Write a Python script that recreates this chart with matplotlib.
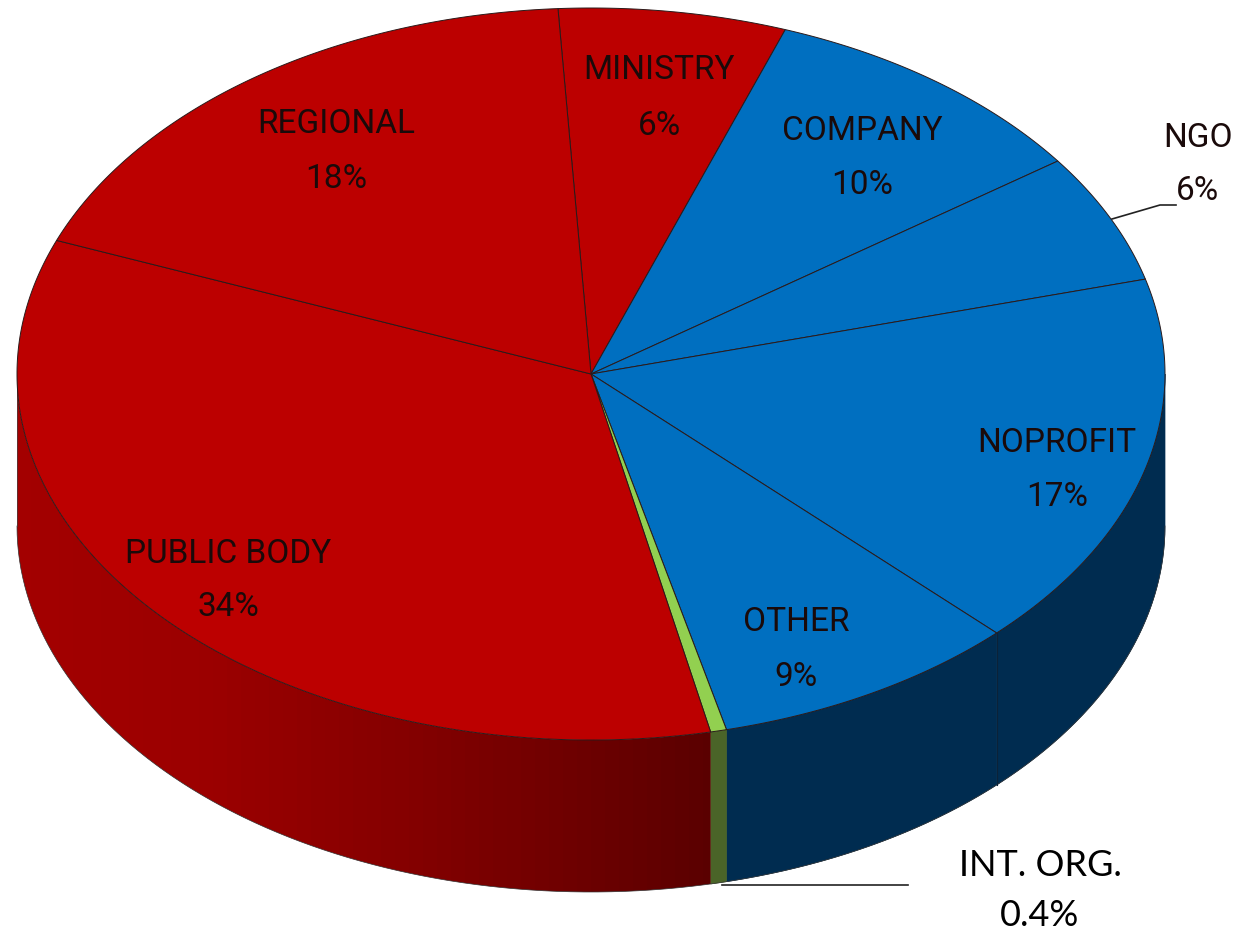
# -*- coding: utf-8 -*-
import numpy as np
import matplotlib
matplotlib.use("Agg")
import matplotlib.pyplot as plt
from matplotlib.colors import ListedColormap
from matplotlib.patches import Polygon

# Parts du camembert, dans le sens horaire depuis MINISTRY
names = ["MINISTRY", "COMPANY", "NGO", "NOPROFIT", "OTHER", "INT. ORG.", "PUBLIC BODY", "REGIONAL"]
shares = [6.4, 9.6, 5.7, 16.65, 8.68, 0.45, 34.22, 18.1]
pct_labels = ["6%", "10%", "6%", "17%", "9%", "0.4%", "34%", "18%"]
top_colors = ["#BC0000", "#006FC0", "#006FC0", "#006FC0", "#006FC0", "#92D050", "#BC0000", "#BC0000"]
side_colors = ["#8A0000", "#002C50", "#002C50", "#002C50", "#002C50", "#4A6428", None, "#8A0000"]

# Géométrie de l'ellipse, en pixels
cx, cy = 591, 374
rx, ry = 574, 366
depth = 152
start_angle = 93.3

fig = plt.figure(figsize=(12.37, 9.32), dpi=100)
ax = fig.add_axes([0, 0, 1, 1])


def ellipse_pts(t1, t2, n=200):
    t = np.radians(np.linspace(t1, t2, n))
    return cx + rx * np.cos(t), cy - ry * np.sin(t)


# Angles des limites
edges = start_angle - np.cumsum([0] + shares) * 360 / sum(shares)

# Côté du cylindre (partie avant seulement)
for i in range(len(shares)):
    a1, a2 = edges[i], edges[i + 1]
    for lo, hi in [(-180, 0), (-540, -360)]:
        s = max(a2, lo)
        e = min(a1, hi)
        if s >= e:
            continue
        xs, ys = ellipse_pts(e, s, 200)
        pts = np.column_stack([np.r_[xs, xs[::-1]], np.r_[ys, ys[::-1] + depth]])
        if side_colors[i] is not None:
            c = side_colors[i]
            ax.add_patch(Polygon(pts, closed=True, fc=c, ec=c, lw=0.5, zorder=2))
        else:
            # rouge : dégradé en bandes, plus sombre vers la droite
            poly = Polygon(pts, closed=True, fc="none", ec="none", zorder=2)
            ax.add_patch(poly)
            band_x = np.arange(17, 725, 14)
            levels = np.interp(band_x, [17, 200, 400, 550, 712], [0.64, 0.61, 0.52, 0.44, 0.35])
            cmap = ListedColormap([(v, 0, 0) for v in levels])
            img = ax.imshow(np.arange(len(band_x))[None, :], extent=[17, 17 + 14 * len(band_x), 932, 0],
                            aspect="auto", cmap=cmap, interpolation="nearest", zorder=2)
            img.set_clip_path(poly)

ax.set_xlim(0, 1237)
ax.set_ylim(932, 0)
ax.axis("off")

# Contours verticaux et bas
xs, ys = ellipse_pts(-180, 0, 400)
ax.plot(xs, ys + depth, color="#333333", lw=0.5, zorder=3)
ax.plot([cx - rx, cx - rx], [cy, cy + depth], color="#444444", lw=0.5, zorder=3)
xe, ye = ellipse_pts(edges[4], edges[4], 1)
ax.plot([xe[0], xe[0]], [ye[0], ye[0] + depth], color="#0B2238", lw=0.8, zorder=3)

# Dessus du camembert
for i in range(len(shares)):
    xs, ys = ellipse_pts(edges[i], edges[i + 1])
    pts = np.column_stack([np.r_[cx, xs], np.r_[cy, ys]])
    ax.add_patch(Polygon(pts, closed=True, fc=top_colors[i], ec="#2A1A1A", lw=0.7, zorder=4))

# Étiquettes dans le camembert (centre x, y du nom, y du pourcentage)
label_pos = {
    "MINISTRY": (659, 70, 126),
    "COMPANY": (862, 131, 185),
    "NGO": (1198, 138, 191),
    "NOPROFIT": (1057, 443, 497),
    "OTHER": (796, 622, 677),
    "PUBLIC BODY": (228, 554, 607),
    "REGIONAL": (336, 124, 179),
}
for name, pct in zip(names, pct_labels):
    if name not in label_pos:
        continue
    x, y1, y2 = label_pos[name]
    ax.text(x, y1, name, ha="center", va="center", fontsize=24, family="Roboto",
            color="#1A0A0A", zorder=6)
    ax.text(x, y2, pct, ha="center", va="center", fontsize=24, family="Roboto",
            color="#1A0A0A", zorder=6)

# Étiquette extérieure
ax.text(1040, 866, "INT. ORG.", ha="center", va="center", fontsize=26, family="Lato", color="black", zorder=6)
ax.text(1040, 915, "0.4%", ha="center", va="center", fontsize=26, family="Lato", color="black", zorder=6)

# Lignes de rappel
ax.plot([1112, 1160, 1176], [219, 205, 205], color="#222222", lw=1.2, zorder=5)
ax.plot([722, 908], [885, 885], color="#222222", lw=1.2, zorder=5)

fig.savefig("out.png", dpi=100, facecolor="white")
